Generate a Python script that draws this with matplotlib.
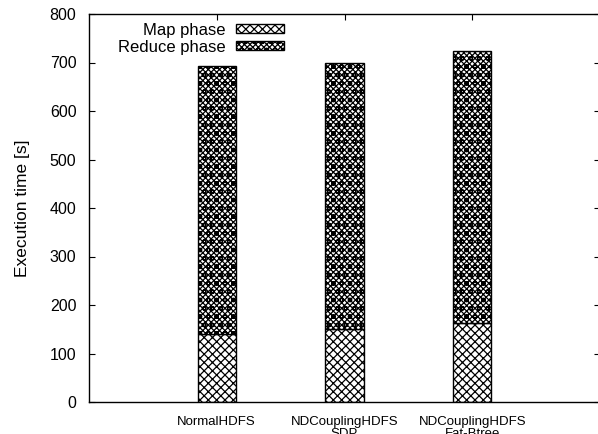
import matplotlib
matplotlib.use("Agg")
import matplotlib.pyplot as plt

# values
systems = ["NormalHDFS", "NDCouplingHDFS\nSDP", "NDCouplingHDFS\nFat-Btree"]
map_phase = [141, 150, 163]
reduce_phase = [551, 549, 561]
y_ticks = [0, 100, 200, 300, 400, 500, 600, 700, 800]

plt.rcParams["font.family"] = ["Liberation Sans", "DejaVu Sans"]
plt.rcParams["hatch.linewidth"] = 0.9
plt.rcParams["hatch.color"] = "black"

fig = plt.figure(figsize=(5.98, 4.34), dpi=100)
ax = fig.add_axes([89 / 598, 32 / 434, 511 / 598, 388 / 434])

pos = [1, 2, 3]
ax.bar(pos, map_phase, width=0.3, color="white", edgecolor="black",
       linewidth=1.0, hatch="xxxx", label="Map phase")
ax.bar(pos, reduce_phase, width=0.3, bottom=map_phase, color="white",
       edgecolor="black", linewidth=1.0, hatch="xxxxxxoo", label="Reduce phase")

ax.set_xlim(0, 4)
ax.set_ylim(0, 800)
ax.set_yticks(y_ticks)
ax.set_xticks(pos)
ax.set_xticklabels(systems, fontsize=9.5, linespacing=1.0)
ax.set_ylabel("Execution time [s]", fontsize=12.5, labelpad=14)

ax.tick_params(axis="y", direction="in", length=4, width=0.8,
               labelsize=11.5, pad=9, right=True)
ax.tick_params(axis="x", direction="in", length=4, width=0.8,
               bottom=False, top=True, pad=10)
for sp in ax.spines.values():
    sp.set_linewidth(1.0)

ax.legend(loc="upper left", bbox_to_anchor=(0.057, 0.978), frameon=False,
          markerfirst=False, fontsize=12, handlelength=2.9, handleheight=0.42,
          handletextpad=0.6, labelspacing=0.12, borderpad=0, borderaxespad=0)

fig.savefig("out.png", dpi=100)
